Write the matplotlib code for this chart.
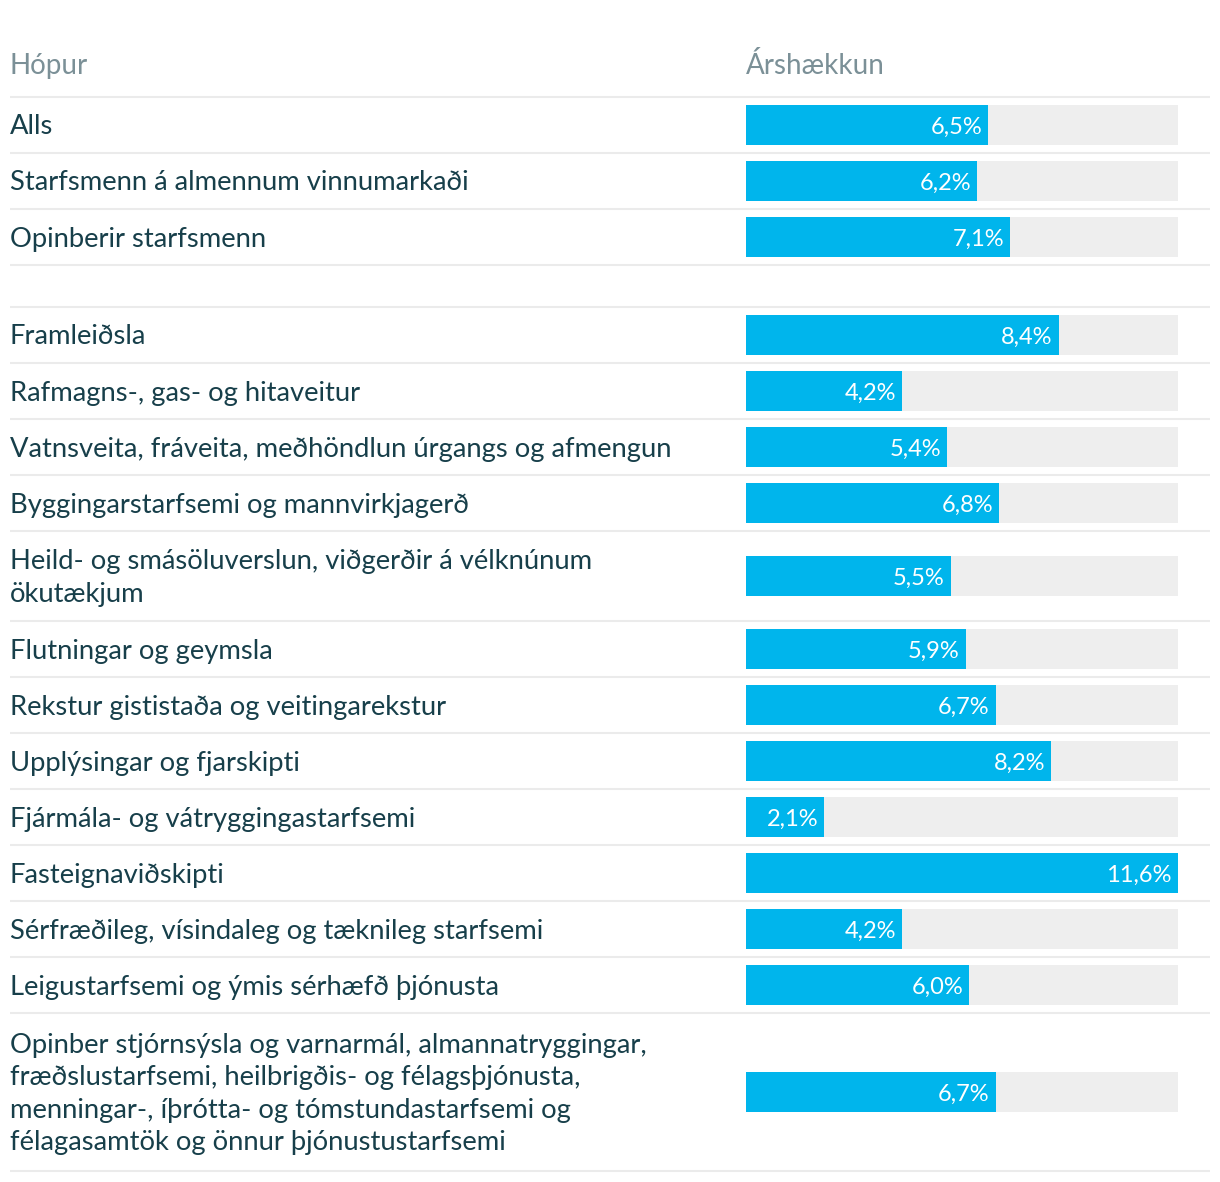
import matplotlib
matplotlib.use("Agg")
import matplotlib.pyplot as plt

plt.rcParams["font.family"] = ["Lato", "DejaVu Sans"]

HEADER_GROUP = "Hópur"
HEADER_VALUE = "Árshækkun"

# first block, then a spacer row, then the industry breakdown
group_labels = [
    "Alls",
    "Starfsmenn á almennum vinnumarkaði",
    "Opinberir starfsmenn",
]
group_values = [6.5, 6.2, 7.1]

industry_labels = [
    "Framleiðsla",
    "Rafmagns-, gas- og hitaveitur",
    "Vatnsveita, fráveita, meðhöndlun úrgangs og afmengun",
    "Byggingarstarfsemi og mannvirkjagerð",
    "Heild- og smásöluverslun, viðgerðir á vélknúnum\nökutækjum",
    "Flutningar og geymsla",
    "Rekstur gististaða og veitingarekstur",
    "Upplýsingar og fjarskipti",
    "Fjármála- og vátryggingastarfsemi",
    "Fasteignaviðskipti",
    "Sérfræðileg, vísindaleg og tæknileg starfsemi",
    "Leigustarfsemi og ýmis sérhæfð þjónusta",
    "Opinber stjórnsýsla og varnarmál, almannatryggingar,\n"
    "fræðslustarfsemi, heilbrigðis- og félagsþjónusta,\n"
    "menningar-, íþrótta- og tómstundastarfsemi og\n"
    "félagasamtök og önnur þjónustustarfsemi",
]
industry_values = [8.4, 4.2, 5.4, 6.8, 5.5, 5.9, 6.7, 8.2, 2.1, 11.6, 4.2, 6.0, 6.7]

W, H = 1220, 1182
TEXT = "#173f4a"
MUTED = "#7b9097"
RULE = "#ebebeb"
BLUE = "#00b5ec"
TRACK = "#eeeeee"

BAR_X0, BAR_X1 = 746, 1178
LEFT, RIGHT = 10, 1210
ROW_H, LINE_H, SPACER_H = 56, 34, 42
BAR_H = 40

fig = plt.figure(figsize=(W / 100, H / 100), dpi=100)
ax = fig.add_axes([0, 0, 1, 1])
ax.set_xlim(0, W)
ax.set_ylim(H, 0)
ax.axis("off")

vmax = max(group_values + industry_values)
bx = fig.add_axes([BAR_X0 / W, 0, (BAR_X1 - BAR_X0) / W, 1])
bx.set_xlim(0, vmax)
bx.set_ylim(H, 0)
bx.axis("off")

ax.text(LEFT, 66, HEADER_GROUP, fontsize=20, color=MUTED, va="center", ha="left")
ax.text(BAR_X0, 66, HEADER_VALUE, fontsize=20, color=MUTED, va="center", ha="left")

rows = [(l, v) for l, v in zip(group_labels, group_values)]
rows.append((None, None))
rows += [(l, v) for l, v in zip(industry_labels, industry_values)]

y = 97
ax.hlines(y, LEFT, RIGHT, color=RULE, lw=1.5)
for label, value in rows:
    if label is None:
        h = SPACER_H
    else:
        n = label.count("\n") + 1
        h = ROW_H + LINE_H * (n - 1)
        yc = y + h / 2
        ax.text(LEFT, yc + 2, label, fontsize=19.7, color=TEXT, va="center",
                ha="left", linespacing=1.37)
        bx.barh(yc, vmax, height=BAR_H, color=TRACK, left=0)
        bx.barh(yc, value, height=BAR_H, color=BLUE, left=0)
        bx.annotate(f"{value:.1f}%".replace(".", ","), (value, yc),
                    xytext=(-6, -2), textcoords="offset pixels",
                    ha="right", va="center", color="white", fontsize=17)
    y += h
    ax.hlines(y, LEFT, RIGHT, color=RULE, lw=1.5)

fig.savefig("out.png", dpi=100)
